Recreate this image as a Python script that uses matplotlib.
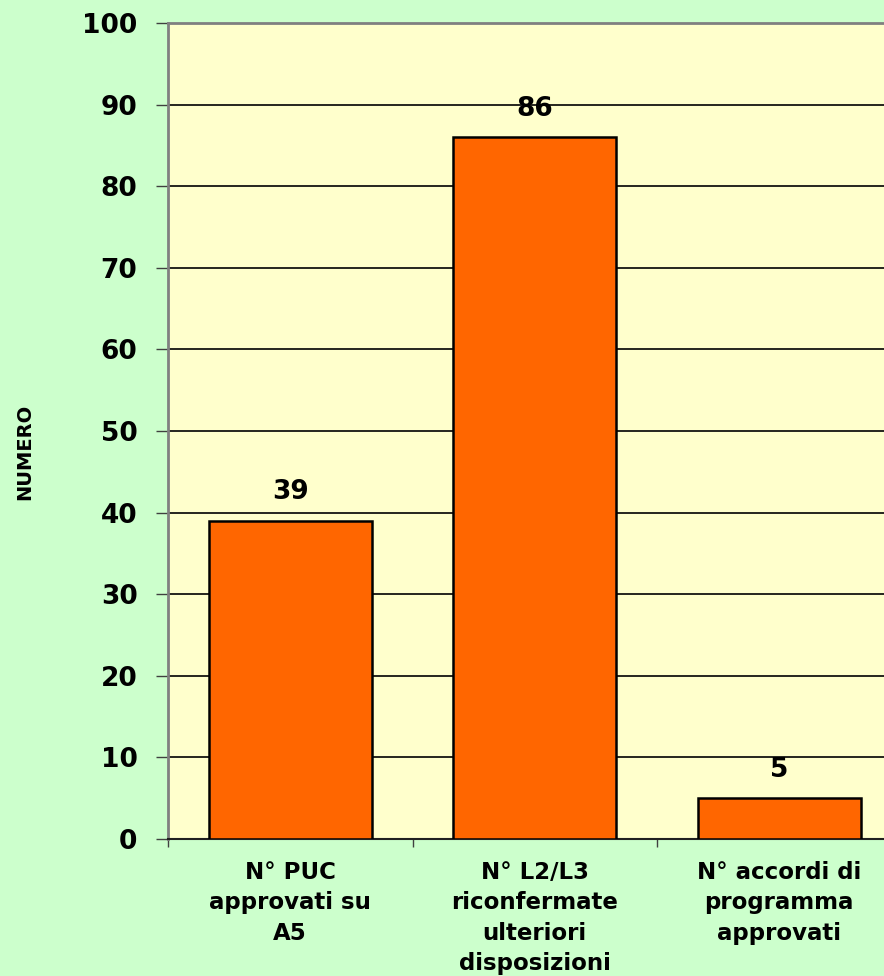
import numpy as np
import matplotlib.pyplot as plt

# Dati del grafico
categorie = ["N° PUC\napprovati su\nA5",
             "N° L2/L3\nriconfermate\nulteriori\ndisposizioni",
             "N° accordi di\nprogramma\napprovati"]
valori = [39, 86, 5]
y_ticks = list(range(0, 101, 10))

plt.rcParams['font.family'] = ['DejaVu Sans']
plt.rcParams['font.weight'] = 'bold'

fig = plt.figure(figsize=(8.84, 9.76), dpi=100, facecolor="#CCFFCC")
# plot area runs off the right edge like in the original
ax = fig.add_axes([168 / 884, 1 - 839 / 976, 733.5 / 884, (839 - 23) / 976])
ax.set_facecolor("#FFFFCC")

x = np.arange(len(categorie))
ax.set_axisbelow(True)
ax.yaxis.grid(True, color="black", linewidth=1.2)
ax.bar(x, valori, width=0.667, color="#FF6600", edgecolor="black", linewidth=1.8, zorder=3)

# etichette dei valori sopra le barre
for xi, v in zip(x, valori):
    ax.annotate(str(v), (xi, v), xytext=(0, 11), textcoords="offset points",
                ha="center", va="bottom", fontsize=19, fontweight="bold")

ax.set_xlim(-0.5, 2.5)
ax.set_ylim(0, 100)
ax.set_yticks(y_ticks)
ax.tick_params(axis="y", direction="out", length=9, width=1, color="#404040",
               pad=13, labelsize=19)

ax.set_xticks(x)
ax.set_xticklabels(categorie, fontsize=16.5, fontweight="bold", linespacing=1.4)
ax.tick_params(axis="x", which="major", length=0, pad=16)
ax.set_xticks([-0.5, 0.5, 1.5, 2.5], minor=True)
ax.tick_params(axis="x", which="minor", length=6, width=1, color="#404040", direction="out")

for side in ["left", "top", "right"]:
    ax.spines[side].set_color("#808080")
    ax.spines[side].set_linewidth(2)
ax.spines["bottom"].set_color("#202020")
ax.spines["bottom"].set_linewidth(1.5)

fig.text(25 / 884, 1 - 452 / 976, "NUMERO", rotation=90, ha="center", va="center",
         fontsize=14, fontweight="bold")

fig.savefig("out.png", dpi=100, facecolor=fig.get_facecolor())
